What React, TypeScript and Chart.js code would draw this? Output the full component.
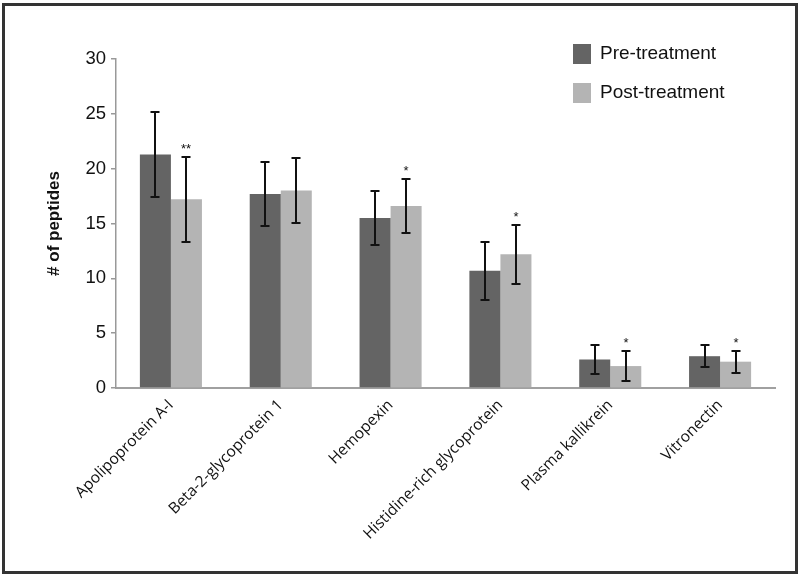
import React, { useEffect, useRef } from "react";
import { Chart, registerables } from "chart.js";

Chart.register(...registerables);

const categories = [
  "Apolipoprotein A-I",
  "Beta-2-glycoprotein 1",
  "Hemopexin",
  "Histidine-rich glycoprotein",
  "Plasma kallikrein",
  "Vitronectin",
];
const seriesNames = ["Pre-treatment", "Post-treatment"];
const preValues = [21.3, 17.7, 15.5, 10.7, 2.6, 2.9];
const postValues = [17.2, 18.0, 16.6, 12.2, 2.0, 2.4];
const preErrors = [3.9, 2.95, 2.5, 2.65, 1.35, 1.0];
const postErrors = [3.9, 2.95, 2.5, 2.7, 1.37, 1.0];
const postMarks = ["**", "", "*", "*", "*", "*"];
const yTicks = [0, 5, 10, 15, 20, 25, 30];

const DARK = "#646464";
const LIGHT = "#b4b4b4";

export default function App() {
  const ref = useRef<HTMLCanvasElement | null>(null);

  useEffect(() => {
    if (!ref.current) return;
    const errors = [preErrors, postErrors];
    const colors = [DARK, LIGHT];

    const overlay = {
      id: "overlay",
      beforeDraw(chart: any) {
        const ctx = chart.ctx;
        ctx.save();
        ctx.fillStyle = "#ffffff";
        ctx.fillRect(0, 0, chart.width, chart.height);
        ctx.restore();
      },
      afterDatasetsDraw(chart: any) {
        const ctx = chart.ctx;
        const y = chart.scales.y;
        ctx.save();
        ctx.strokeStyle = "#111111";
        ctx.lineWidth = 2;
        for (let d = 0; d < 2; d++) {
          const meta = chart.getDatasetMeta(d);
          const vals = chart.data.datasets[d].data as number[];
          meta.data.forEach((bar: any, i: number) => {
            const v = vals[i];
            const e = errors[d][i];
            const yt = Math.round(y.getPixelForValue(v + e));
            const yb = Math.round(y.getPixelForValue(v - e));
            const x = Math.round(bar.x);
            ctx.beginPath();
            ctx.moveTo(x, yt);
            ctx.lineTo(x, yb);
            ctx.moveTo(x - 4.5, yt);
            ctx.lineTo(x + 4.5, yt);
            ctx.moveTo(x - 4.5, yb);
            ctx.lineTo(x + 4.5, yb);
            ctx.stroke();
            if (d === 1 && postMarks[i]) {
              ctx.fillStyle = "#111111";
              ctx.font = "13px 'Liberation Sans'";
              ctx.textAlign = "center";
              ctx.textBaseline = "middle";
              ctx.fillText(postMarks[i], x, yt - 8);
            }
          });
        }
        ctx.restore();
      },
      afterDraw(chart: any) {
        const ctx = chart.ctx;
        ctx.save();
        // legend
        ctx.font = "19px 'Liberation Sans'";
        ctx.textBaseline = "middle";
        ctx.textAlign = "left";
        seriesNames.forEach((name, i) => {
          const cy = 54 + i * 39;
          ctx.fillStyle = colors[i];
          ctx.fillRect(573, cy - 10, 18, 20);
          ctx.fillStyle = "#111111";
          ctx.fillText(name, 600, cy);
        });
        // frame
        ctx.strokeStyle = "#333333";
        ctx.lineWidth = 3;
        ctx.strokeRect(3.5, 4.5, 793, 568);
        ctx.restore();
      },
    };

    const chart = new Chart(ref.current, {
      type: "bar",
      data: {
        labels: categories,
        datasets: [
          {
            label: seriesNames[0],
            data: preValues,
            backgroundColor: DARK,
            borderWidth: 0,
            categoryPercentage: 0.565,
            barPercentage: 1,
          },
          {
            label: seriesNames[1],
            data: postValues,
            backgroundColor: LIGHT,
            borderWidth: 0,
            categoryPercentage: 0.565,
            barPercentage: 1,
          },
        ],
      },
      options: {
        animation: false,
        responsive: false,
        maintainAspectRatio: false,
        layout: { padding: { left: 40, right: 25, top: 59, bottom: 0 } },
        plugins: {
          legend: { display: false },
          tooltip: { enabled: false },
          title: { display: false },
        },
        scales: {
          x: {
            grid: { display: false },
            border: { display: true, color: "#a0a0a0", width: 2 },
            ticks: {
              autoSkip: false,
              minRotation: 45,
              maxRotation: 45,
              padding: 0,
              color: "#111111",
              font: { family: "'Open Sans'", size: 15.5 },
            },
            afterFit: (s: any) => {
              s.height = 188;
            },
          },
          y: {
            min: 0,
            max: 30,
            afterBuildTicks: (s: any) => {
              s.ticks = yTicks.map((v) => ({ value: v }));
            },
            grid: {
              display: true,
              drawOnChartArea: false,
              drawTicks: true,
              tickLength: 5,
              color: "#999999",
              lineWidth: 1.5,
            },
            border: { display: true, color: "#999999", width: 1.5 },
            ticks: {
              padding: 5,
              color: "#111111",
              font: { family: "'Liberation Sans'", size: 18.5 },
            },
            title: {
              display: true,
              text: "# of peptides",
              color: "#111111",
              font: { family: "'Liberation Sans'", size: 17, weight: "bold" },
              padding: { top: 4, bottom: 4 },
            },
            afterFit: (s: any) => {
              s.width = 76;
            },
          },
        },
      },
      plugins: [overlay],
    });
    return () => chart.destroy();
  }, []);

  return (
    <div style={{ position: "fixed", left: 0, top: 0, width: 800, height: 576 }}>
      <canvas ref={ref} width={800} height={576} style={{ width: 800, height: 576, display: "block" }} />
    </div>
  );
}
